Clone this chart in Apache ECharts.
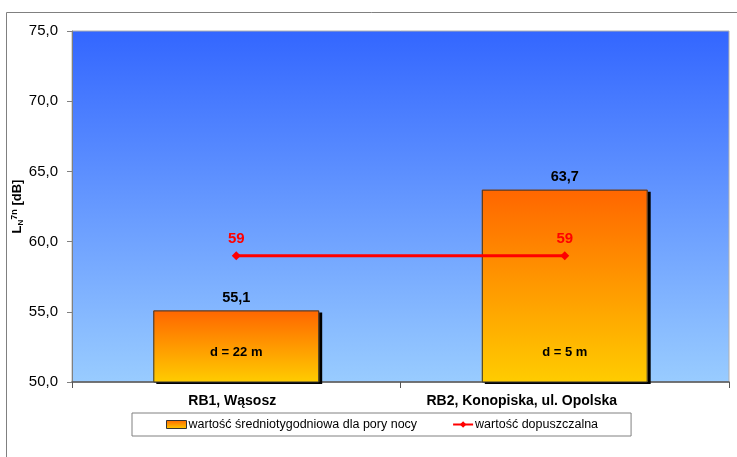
<!DOCTYPE html>
<html>
<head>
<meta charset="utf-8">
<script src="https://cdn.jsdelivr.net/npm/echarts@6/dist/echarts.min.js"></script>
<style>
  html, body { margin: 0; padding: 0; background: #fff; }
  #chart { width: 737px; height: 457px; }
</style>
</head>
<body>
<div id="chart"></div>
<script>
// Measurement points and weekly night-time noise levels
const categories = ['RB1, Wąsosz', 'RB2, Konopiska, ul. Opolska'];
const nightLevels = [55.1, 63.7];
const permittedLevels = [59, 59];
const distanceNotes = ['d = 22 m', 'd = 5 m'];
const yTicks = { min: 50, max: 75, step: 5 };

const seriesNames = ['wartość średniotygodniowa dla pory nocy', 'wartość dopuszczalna'];
const FONT = '"Liberation Sans", Arial, sans-serif';

// horizontal nudge of each category label (right padding, px)
const labelShift = [8, 86];

const chart = echarts.init(document.getElementById('chart'), null, { renderer: 'canvas' });

const barFill = new echarts.graphic.LinearGradient(0, 0, 0, 1, [
  { offset: 0, color: '#FF6600' },
  { offset: 1, color: '#FFCC00' }
]);

const comma = v => String(v).replace('.', ',');

chart.setOption({
  animation: false,
  textStyle: { fontFamily: FONT },
  graphic: [
    {
      type: 'polyline',
      shape: { points: [[6.5, 457], [6.5, 12.5], [737, 12.5]] },
      style: { stroke: '#808080', lineWidth: 1, fill: null },
      silent: true
    }
  ],
  grid: {
    left: 72, right: 8, top: 31, bottom: 75,
    containLabel: false,
    outerBoundsMode: 'none',
    show: true,
    borderColor: '#b0b0b0',
    borderWidth: 1,
    backgroundColor: new echarts.graphic.LinearGradient(0, 0, 0, 1, [
      { offset: 0, color: '#3366FF' },
      { offset: 1, color: '#99CCFF' }
    ])
  },
  legend: {
    left: 132,
    top: 413,
    padding: [5, 33, 5, 34],
    itemGap: 35,
    itemWidth: 20,
    itemHeight: 8,
    borderColor: '#808080',
    borderWidth: 1,
    backgroundColor: '#fff',
    textStyle: { fontFamily: FONT, fontSize: 12.5, color: '#000', padding: [0, 0, 0, -3] },
    data: [
      { name: seriesNames[0], icon: 'rect', itemStyle: { color: barFill, borderColor: '#333', borderWidth: 1 } },
      { name: seriesNames[1] }
    ]
  },
  xAxis: {
    type: 'category',
    data: categories.map((c, i) => ({ value: c, textStyle: { padding: [0, labelShift[i], 0, 0] } })),
    axisLine: { lineStyle: { color: '#555', width: 1.5 } },
    axisTick: { show: true, length: 6, interval: 0, lineStyle: { color: '#555' } },
    axisLabel: { fontFamily: FONT, fontSize: 14, fontWeight: 'bold', color: '#000', margin: 12 },
    splitLine: { show: false }
  },
  yAxis: {
    type: 'value',
    min: yTicks.min, max: yTicks.max, interval: yTicks.step,
    name: '{b|L}{sub|N}{sup|7n}{b| [dB]}',
    nameLocation: 'middle',
    nameGap: 47,
    nameMoveOverlap: false,
    nameRotate: 90,
    nameTextStyle: {
      rich: {
        b: { fontFamily: FONT, fontSize: 13, fontWeight: 'bold', color: '#000' },
        sub: { fontFamily: FONT, fontSize: 8, fontWeight: 'bold', color: '#000', verticalAlign: 'bottom', padding: [6, 0, 0, 0] },
        sup: { fontFamily: FONT, fontSize: 9, fontWeight: 'bold', color: '#000', verticalAlign: 'top', padding: [0, 0, 6, 0] }
      }
    },
    axisLine: { show: true, lineStyle: { color: '#808080' } },
    axisTick: { show: true, length: 5, lineStyle: { color: '#808080' } },
    axisLabel: { fontFamily: FONT, fontSize: 15, color: '#000', margin: 14, formatter: v => v.toFixed(1).replace('.', ',') },
    splitLine: { show: false }
  },
  series: [
    {
      // gradient bars with a hard drop shadow
      name: seriesNames[0],
      type: 'bar',
      data: nightLevels,
      barWidth: '50.5%',
      itemStyle: {
        color: barFill,
        borderWidth: 0,
        shadowColor: '#000',
        shadowOffsetX: 3,
        shadowOffsetY: 2,
        shadowBlur: 0
      },
      label: {
        show: true,
        position: 'top',
        distance: 5,
        fontFamily: FONT,
        fontSize: 14.5,
        fontWeight: 'bold',
        color: '#000',
        formatter: p => comma(p.value)
      },
      z: 2
    },
    {
      // bar outlines plus in-bar distance annotations near the base
      name: 'notes',
      type: 'bar',
      data: nightLevels,
      barWidth: '50.5%',
      barGap: '-100%',
      itemStyle: { color: 'rgba(0,0,0,0)', borderColor: '#333', borderWidth: 1 },
      label: {
        show: true,
        position: 'insideBottom',
        distance: 24,
        fontFamily: FONT,
        fontSize: 13,
        fontWeight: 'bold',
        color: '#000',
        formatter: p => distanceNotes[p.dataIndex]
      },
      silent: true,
      z: 3
    },
    {
      name: seriesNames[1],
      type: 'line',
      data: permittedLevels,
      symbol: 'diamond',
      symbolSize: 9,
      lineStyle: { color: '#FF0000', width: 3 },
      itemStyle: { color: '#FF0000' },
      label: {
        show: true,
        position: 'top',
        distance: 5,
        fontFamily: FONT,
        fontSize: 15,
        fontWeight: 'bold',
        color: '#FF0000',
        formatter: p => comma(p.value)
      },
      z: 4
    }
  ]
});
</script>
</body>
</html>
